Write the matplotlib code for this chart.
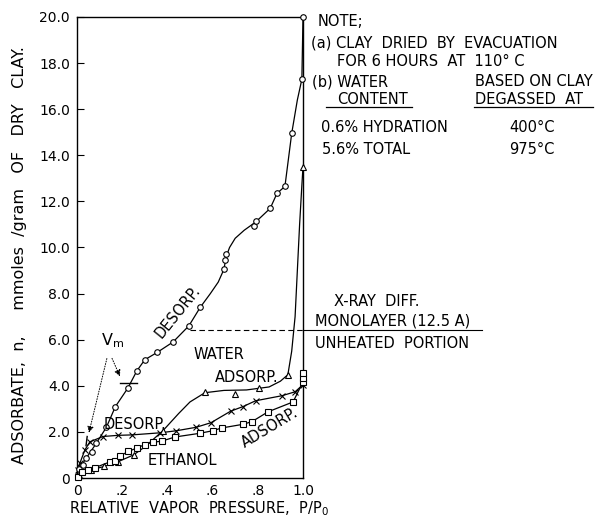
import matplotlib.pyplot as plt

# water, desorption branch (circles)
wd_x = [0.01, 0.025, 0.04, 0.066, 0.085, 0.13, 0.17, 0.225, 0.265, 0.30, 0.355,
        0.425, 0.495, 0.545, 0.65, 0.655, 0.66, 0.785, 0.79, 0.855, 0.885, 0.92,
        0.95, 0.995, 1.0]
wd_y = [0.4, 0.55, 0.85, 1.13, 1.5, 2.2, 3.1, 3.9, 4.65, 5.13, 5.45,
        5.9, 6.6, 7.4, 9.05, 9.45, 9.7, 10.95, 11.15, 11.7, 12.35, 12.65,
        14.95, 17.3, 20.0]
# smooth trace drawn through the circles
wd_line_x = [0.0, 0.01, 0.04, 0.085, 0.13, 0.17, 0.225, 0.265, 0.30, 0.355, 0.425,
             0.495, 0.545, 0.59, 0.625, 0.65, 0.66, 0.675, 0.70, 0.74, 0.79, 0.855,
             0.885, 0.92, 0.95, 0.975, 0.995, 1.0]
wd_line_y = [0.2, 0.4, 0.85, 1.5, 2.2, 3.1, 3.9, 4.65, 5.13, 5.45, 5.9,
             6.6, 7.4, 8.0, 8.5, 9.05, 9.6, 10.0, 10.4, 10.75, 11.1, 11.7,
             12.35, 12.65, 14.95, 16.4, 17.3, 20.0]

# water, adsorption branch (triangles)
wa_x = [0.01, 0.06, 0.12, 0.18, 0.25, 0.38, 0.566, 0.70, 0.805, 0.933, 1.0]
wa_y = [0.15, 0.35, 0.5, 0.7, 1.0, 2.05, 3.74, 3.65, 3.9, 4.48, 13.5]
wa_line_x = [0.0, 0.06, 0.12, 0.18, 0.25, 0.30, 0.38, 0.45, 0.50, 0.566, 0.65,
             0.75, 0.85, 0.90, 0.933, 0.95, 0.965, 0.975, 0.985, 0.995, 1.0]
wa_line_y = [0.0, 0.35, 0.5, 0.7, 1.0, 1.35, 2.05, 2.8, 3.3, 3.7, 3.8,
             3.82, 3.95, 4.2, 4.48, 5.5, 7.0, 9.0, 11.0, 12.7, 13.5]

# ethanol, desorption branch (crosses)
ed_x = [0.005, 0.013, 0.035, 0.057, 0.115, 0.18, 0.243, 0.367, 0.44, 0.527,
        0.593, 0.68, 0.735, 0.79, 0.907, 0.965, 1.0]
ed_y = [0.35, 0.65, 1.22, 1.57, 1.8, 1.85, 1.87, 1.96, 2.05, 2.2,
        2.4, 2.9, 3.1, 3.35, 3.57, 3.74, 4.05]

# ethanol, adsorption branch (squares)
ea_x = [0.005, 0.02, 0.05, 0.08, 0.146, 0.168, 0.19, 0.226, 0.265, 0.30, 0.335,
        0.375, 0.434, 0.544, 0.60, 0.64, 0.735, 0.775, 0.845, 0.956, 1.0]
ea_y = [0.05, 0.25, 0.35, 0.45, 0.7, 0.72, 0.95, 1.15, 1.3, 1.45, 1.55,
        1.6, 1.78, 1.94, 2.05, 2.17, 2.33, 2.45, 2.87, 3.3, 4.17]
# saturation points stacked on the P/Po = 1 edge
sat_x = [1.0, 1.0]
sat_y = [4.35, 4.55]

monolayer_y = 6.4
vm_water = 4.13
vm_ethanol = 1.55

x_ticks = [0, 0.2, 0.4, 0.6, 0.8, 1.0]
x_labels = ['0', '.2', '.4', '.6', '.8', '1.0']
y_ticks = [0, 2, 4, 6, 8, 10, 12, 14, 16, 18, 20]
y_labels = ['0', '2.0', '4.0', '6.0', '8.0', '10.0', '12.0', '14.0', '16.0', '18.0', '20.0']

W, H = 596, 522
FS = 10.5


def px(x, y):
    return x / W, 1 - y / H


fig = plt.figure(figsize=(W / 100, H / 100), dpi=100)
ax = fig.add_axes([77 / W, 1 - 478 / H, 226 / W, 461 / H])
ax.set_xlim(0, 1)
ax.set_ylim(0, 20)

lw = 0.9
mk = dict(mfc='white', mec='black', mew=0.8, clip_on=False, zorder=3)
ax.plot(wd_line_x, wd_line_y, color='black', lw=lw, clip_on=False)
ax.plot(wd_x, wd_y, ls='none', marker='o', ms=4, **mk)
ax.plot(wa_line_x, wa_line_y, color='black', lw=lw, clip_on=False)
ax.plot(wa_x, wa_y, ls='none', marker='^', ms=4.5, **mk)
ax.plot(ed_x, ed_y, color='black', lw=lw, marker='x', ms=4, mew=0.8, clip_on=False)
ax.plot(ea_x, ea_y, color='black', lw=lw, clip_on=False)
ax.plot(ea_x, ea_y, ls='none', marker='s', ms=3.8, **mk)
ax.plot(sat_x, sat_y, ls='none', marker='s', ms=3.8, **mk)

# monolayer level from x-ray diffraction
ax.plot([0.5, 1.0], [monolayer_y, monolayer_y], color='black', lw=0.8, ls=(0, (5, 3)))
ax.plot([1.0, 1.79], [monolayer_y, monolayer_y], color='black', lw=0.8, clip_on=False)

# V_m markers and pointers
ax.plot([0.19, 0.265], [vm_water, vm_water], color='black', lw=1.0)
ax.plot([0.04, 0.045], [vm_ethanol - 0.15, vm_ethanol + 0.25], color='black', lw=1.0)
ax.text(0.155, 5.95, r'V$_{\mathrm{m}}$', fontsize=FS + 1, ha='center', va='center')
arrow = dict(arrowstyle='-|>', color='black', lw=0.7, ls=':', mutation_scale=9)
ax.annotate('', xy=(0.05, 1.85), xytext=(0.135, 5.3), arrowprops=arrow)
ax.annotate('', xy=(0.195, 4.3), xytext=(0.15, 5.3), arrowprops=arrow)

# curve labels
ax.text(0.447, 7.2, 'DESORP.', fontsize=FS, rotation=51, ha='center', va='center',
        rotation_mode='anchor')
ax.text(0.63, 5.35, 'WATER', fontsize=FS, ha='center', va='center')
ax.text(0.752, 4.35, 'ADSORP.', fontsize=FS, ha='center', va='center')
ax.text(0.255, 2.3, 'DESORP.', fontsize=FS, ha='center', va='center')
ax.text(0.467, 0.78, 'ETHANOL', fontsize=FS, ha='center', va='center')
ax.text(0.855, 2.17, 'ADSORP.', fontsize=FS, rotation=31, ha='center', va='center',
        rotation_mode='anchor')

ax.set_xticks(x_ticks)
ax.set_xticklabels(x_labels, fontsize=10)
ax.set_yticks(y_ticks)
ax.set_yticklabels(y_labels, fontsize=10)
ax.tick_params(axis='y', direction='in', length=5, width=0.8, pad=5)
ax.tick_params(axis='x', length=0, pad=4)
for s in ax.spines.values():
    s.set_linewidth(1.0)

# axis titles
fig.text(*px(199, 509), 'RELATIVE  VAPOR  PRESSURE,  P/P$_{\\mathrm{0}}$', fontsize=FS,
         ha='center', va='center')
fig.text(*px(20, 255), 'ADSORBATE,  n,     mmoles  /gram   OF   DRY   CLAY.', fontsize=11.5,
         rotation=90, ha='center', va='center')

# notes to the right of the plot
fig.text(*px(318, 22), 'NOTE;', fontsize=FS, va='center')
fig.text(*px(311, 43), '(a) CLAY  DRIED  BY  EVACUATION', fontsize=FS, va='center')
fig.text(*px(337, 61), 'FOR 6 HOURS  AT  110° C', fontsize=FS, va='center')
fig.text(*px(312, 82), '(b) WATER', fontsize=FS, va='center')
fig.text(*px(337, 99), 'CONTENT', fontsize=FS, va='center')
fig.text(*px(475, 82), 'BASED ON CLAY', fontsize=FS, va='center')
fig.text(*px(475, 99), 'DEGASSED  AT', fontsize=FS, va='center')
fig.add_artist(plt.Line2D([326 / W, 412 / W], [1 - 107 / H] * 2, color='black', lw=0.9))
fig.add_artist(plt.Line2D([474 / W, 593 / W], [1 - 107 / H] * 2, color='black', lw=0.9))
fig.text(*px(321, 128), '0.6% HYDRATION', fontsize=FS, va='center')
fig.text(*px(509, 128), '400°C', fontsize=FS, va='center')
fig.text(*px(322, 149), '5.6% TOTAL', fontsize=FS, va='center')
fig.text(*px(509, 149), '975°C', fontsize=FS, va='center')

fig.text(*px(334, 301), 'X-RAY  DIFF.', fontsize=FS, va='center')
fig.text(*px(315, 321), 'MONOLAYER (12.5 A)', fontsize=FS, va='center')
fig.text(*px(315, 344), 'UNHEATED  PORTION', fontsize=FS, va='center')

fig.savefig('out.png', dpi=100, facecolor='white')
